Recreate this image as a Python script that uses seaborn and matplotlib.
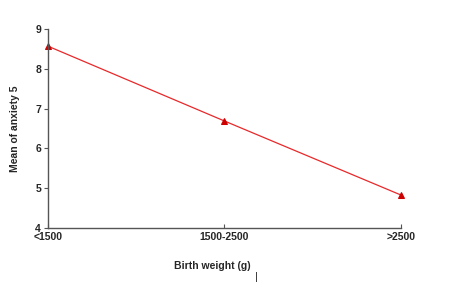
import matplotlib
matplotlib.use("Agg")
import matplotlib.pyplot as plt
import seaborn as sns
import pandas as pd

categories = ["<1500", "1500-2500", ">2500"]
anxiety_means = [8.57, 6.69, 4.83]
y_ticks = [4, 5, 6, 7, 8, 9]

sns.set_style("white")
plt.rcParams['font.family'] = ['Liberation Sans', 'DejaVu Sans']

df = pd.DataFrame({"bw": categories, "mean": anxiety_means})

fig = plt.figure(figsize=(4.55, 3.03), dpi=100)
ax = fig.add_axes([0.1055, 0.2475, 0.7755, 0.6565])
sns.lineplot(data=df, x="bw", y="mean", ax=ax, color="#e8282a", linewidth=0.9,
             marker="^", markersize=5, markeredgecolor="#cc0000", markerfacecolor="#cc0000",
             clip_on=False)

ax.set_xlim(0, 2)
ax.set_ylim(4, 9)
ax.set_yticks(y_ticks)
ax.set_yticklabels([str(t) for t in y_ticks], fontsize=7.5, fontweight="bold")
ax.set_xticks(range(len(categories)))
ax.set_xticklabels(categories, fontsize=7.5, fontweight="bold")
ax.tick_params(axis="y", direction="out", length=3, width=0.8, color="#555555", pad=2, left=True)
ax.tick_params(axis="x", direction="in", length=3, width=0.8, color="#555555", pad=3, bottom=True)
for s in ["top", "right"]:
    ax.spines[s].set_visible(False)
for s in ["left", "bottom"]:
    ax.spines[s].set_color("#555555")
    ax.spines[s].set_linewidth(1.0)

ax.set_xlabel("")
ax.set_ylabel("Mean of anxiety 5", fontsize=7.5, fontweight="bold", labelpad=11)
fig.text(0.466, 0.122, "Birth weight (g)", fontsize=7.5, fontweight="bold", ha="center", va="center")
fig.text(0.563, 0.085, "|", fontsize=8, ha="center", va="center")

fig.savefig("out.png", dpi=100)
